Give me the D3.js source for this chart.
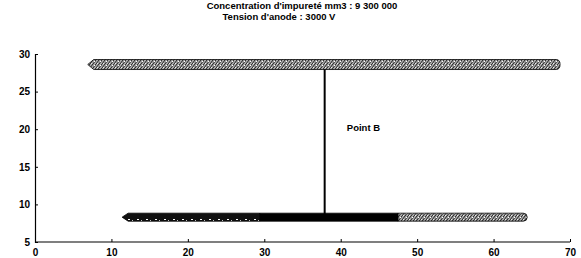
<!DOCTYPE html>
<html><head><meta charset="utf-8">
<script src="https://cdn.jsdelivr.net/npm/d3@7"></script>
<style>body{margin:0;background:#fff}svg{display:block}</style>
</head><body><div id="chart"></div>
<script>
const titleLines = ["Concentration d'impureté mm3 : 9 300 000", "Tension d'anode : 3000 V"];
const xTicks = [0, 10, 20, 30, 40, 50, 60, 70];
const yTicks = [5, 10, 15, 20, 25, 30];
// horizontal bands: level (y), start and end (x)
const bandY = [28.6, 8.3, 8.3, 8.3];
const bandStart = [6.9, 11.4, 29.4, 47.5];
const bandEnd = [68.7, 29.4, 47.5, 64.4];
const bandKind = ["grey", "speck", "solid", "grey"];
// vertical link
const linkX = [37.9];
const linkY0 = [8.3];
const linkY1 = [28.6];
const labelText = ["Point B"];
const labelX = [40.8];
const labelY = [20.2];

const W = 581, H = 258;
const svg = d3.select("#chart").append("svg").attr("width", W).attr("height", H);
const x = d3.scaleLinear().domain([0, 70]).range([35, 570]);
const y = d3.scaleLinear().domain([5, 30]).range([242, 54]);

const defs = svg.append("defs");
const pg = defs.append("pattern").attr("id", "grey").attr("patternUnits", "userSpaceOnUse")
  .attr("width", 6).attr("height", 4);
pg.append("rect").attr("width", 6).attr("height", 4).attr("fill", "#a8a8a8");
pg.append("path").attr("d", "M0,4 L3,0 M3,4 L6,0").attr("stroke", "#222").attr("stroke-width", 1);
pg.append("rect").attr("x", 4).attr("y", 1).attr("width", 1).attr("height", 1).attr("fill", "#fff");
pg.append("rect").attr("x", 1).attr("y", 3).attr("width", 1).attr("height", 1).attr("fill", "#eee");
const ps = defs.append("pattern").attr("id", "speck").attr("patternUnits", "userSpaceOnUse")
  .attr("width", 9).attr("height", 8);
ps.append("rect").attr("width", 9).attr("height", 8).attr("fill", "#111");
ps.append("rect").attr("x", 2).attr("y", 3).attr("width", 2).attr("height", 1).attr("fill", "#fff");
ps.append("rect").attr("x", 6).attr("y", 4).attr("width", 1).attr("height", 1).attr("fill", "#fff");

// title
const t = svg.append("text").attr("font-family", "Liberation Sans, Arial, sans-serif")
  .attr("font-weight", "bold").attr("font-size", 9.5).attr("fill", "#000");
t.append("tspan").attr("x", 302).attr("y", 9).attr("text-anchor", "middle").text(titleLines[0]);
t.append("tspan").attr("x", 279).attr("y", 20).attr("text-anchor", "middle").text(titleLines[1]);

// axes
const xAxis = svg.append("g").attr("transform", `translate(0,${y(5)})`)
  .call(d3.axisBottom(x).tickValues(xTicks).tickSize(-3).tickPadding(7).tickFormat(d3.format("d")));
const yAxis = svg.append("g").attr("transform", `translate(${x(0)},0)`)
  .call(d3.axisLeft(y).tickValues(yTicks).tickSize(-3).tickPadding(5).tickFormat(d3.format("d")));
[xAxis, yAxis].forEach(g => {
  g.select(".domain").attr("stroke", "#000").attr("stroke-width", 1.2);
  g.selectAll(".tick line").attr("stroke", "#000");
  g.selectAll("text").attr("font-family", "Liberation Sans, Arial, sans-serif")
    .attr("font-weight", "bold").attr("font-size", 10).attr("fill", "#000");
});
xAxis.selectAll(".domain").attr("d", `M${x(0)},0H${x(70)}`);

// vertical link
svg.selectAll(".link").data(linkX).enter().append("line")
  .attr("x1", d => x(d)).attr("x2", d => x(d))
  .attr("y1", (d, i) => y(linkY0[i])).attr("y2", (d, i) => y(linkY1[i]))
  .attr("stroke", "#000").attr("stroke-width", 2);

// bands
function bandPath(i) {
  const h = bandY[i] > 20 ? 5 : 4;
  const x0 = x(bandStart[i]), x1 = x(bandEnd[i]), yc = y(bandY[i]);
  const lp = i === 0 || i === 1 ? 6 : 0;
  const rp = i === 0 || i === 3 ? 4 : 0;
  return `M${x0},${yc} L${x0 + lp},${yc - h} L${x1 - rp},${yc - h} Q${x1},${yc - h} ${x1},${yc} Q${x1},${yc + h} ${x1 - rp},${yc + h} L${x0 + lp},${yc + h} Z`;
}
svg.selectAll(".band").data(bandY).enter().append("path")
  .attr("d", (d, i) => bandPath(i))
  .attr("fill", (d, i) => bandKind[i] === "solid" ? "#000" : `url(#${bandKind[i]})`)
  .attr("stroke", "#000").attr("stroke-width", 0.8);

// label
svg.selectAll(".lbl").data(labelText).enter().append("text")
  .attr("x", (d, i) => x(labelX[i])).attr("y", (d, i) => y(labelY[i]) + 3)
  .attr("font-family", "Liberation Sans, Arial, sans-serif").attr("font-weight", "bold")
  .attr("font-size", 9.5).text(d => d);
</script></body></html>
